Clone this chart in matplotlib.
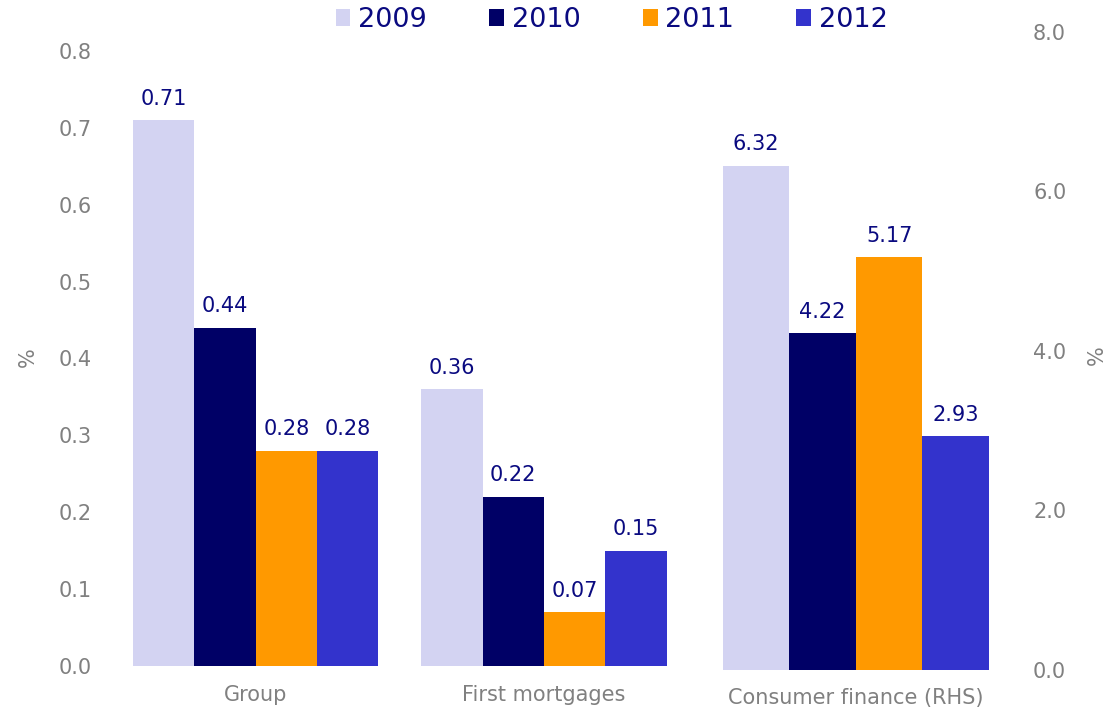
import numpy as np
import matplotlib
matplotlib.use('Agg')
import matplotlib.pyplot as plt
from matplotlib.patches import Patch

# Impairment ratios, %
years = ['2009', '2010', '2011', '2012']
lhs_categories = ['Group', 'First mortgages']
rhs_categories = ['Consumer finance (RHS)']
group_vals = [0.71, 0.44, 0.28, 0.28]
mortgage_vals = [0.36, 0.22, 0.07, 0.15]
consumer_vals = [6.32, 4.22, 5.17, 2.93]

colors = ['#D3D3F2', '#000066', '#FF9900', '#3333CC']
label_col = '#0A0A80'
tick_col = '#808080'

plt.rcParams['font.family'] = ['DejaVu Sans']

fig = plt.figure(figsize=(11.08, 7.11), dpi=100)
W, H = 1108, 711

def px_axes(left, right, top, bottom):
    return fig.add_axes([left / W, 1 - bottom / H, (right - left) / W, (bottom - top) / H])

ax1 = px_axes(100, 1015, 51, 666)
ax2 = px_axes(100, 1015, 31.7, 669.7)
ax2.patch.set_alpha(0)

width = 0.2126
offsets = (np.arange(4) - 1.5) * width

lhs = np.array([group_vals, mortgage_vals]).T   # rows = years
rhs = np.array(consumer_vals)
x1 = np.arange(len(lhs_categories))
x2 = np.array([2])

for i in range(4):
    b1 = ax1.bar(x1 + offsets[i], lhs[i], width, color=colors[i], linewidth=0)
    b2 = ax2.bar(x2 + offsets[i], [rhs[i]], width, color=colors[i], linewidth=0)
    for rect, v in zip(b1, lhs[i]):
        ax1.annotate(f'{v:.2f}', (rect.get_x() + rect.get_width() / 2, v),
                     xytext=(0, 15.5), textcoords='offset points',
                     ha='center', va='center', fontsize=15, color=label_col)
    for rect in b2:
        ax2.annotate(f'{rhs[i]:.2f}', (rect.get_x() + rect.get_width() / 2, rhs[i]),
                     xytext=(0, 15.5), textcoords='offset points',
                     ha='center', va='center', fontsize=15, color=label_col)

ax1.set_xlim(-0.540, 2.634)
ax1.set_ylim(0, 0.8)
ax1.set_yticks(np.arange(0, 0.81, 0.1))
ax1.set_yticklabels([f'{t:.1f}' for t in np.arange(0, 0.81, 0.1)])
ax1.set_xticks(x1)
ax1.set_xticklabels(lhs_categories)
ax1.tick_params(axis='y', length=0, pad=6, labelsize=15, labelcolor=tick_col)
ax1.tick_params(axis='x', length=0, pad=14, labelsize=15, labelcolor=tick_col)

ax2.set_xlim(-0.412, 2.508)
ax2.set_ylim(0, 8)
ax2.set_yticks([0, 2, 4, 6, 8])
ax2.set_yticklabels([f'{t:.1f}' for t in [0, 2, 4, 6, 8]])
ax2.yaxis.tick_right()
ax2.set_xticks(x2)
ax2.set_xticklabels(rhs_categories)
ax2.tick_params(axis='y', length=0, pad=13, labelsize=15, labelcolor=tick_col)
ax2.tick_params(axis='x', length=0, pad=13, labelsize=15, labelcolor=tick_col)

for ax in (ax1, ax2):
    for s in ax.spines.values():
        s.set_visible(False)

fig.text(28 / W, 1 - 357 / H, '%', rotation=90, ha='center', va='center',
         fontsize=15, color=tick_col)
fig.text(1097 / W, 1 - 355 / H, '%', rotation=90, ha='center', va='center',
         fontsize=15, color=tick_col)

handles = [Patch(facecolor=c, edgecolor='none') for c in colors]
leg = fig.legend(handles, years, loc='center', bbox_to_anchor=(0.552, 1 - 20 / H),
                 ncol=4, frameon=False, fontsize=19.5, handlelength=0.55,
                 handleheight=0.55, handletextpad=0.28, columnspacing=2.3)
for t in leg.get_texts():
    t.set_color(label_col)

fig.savefig('out.png', dpi=100)
